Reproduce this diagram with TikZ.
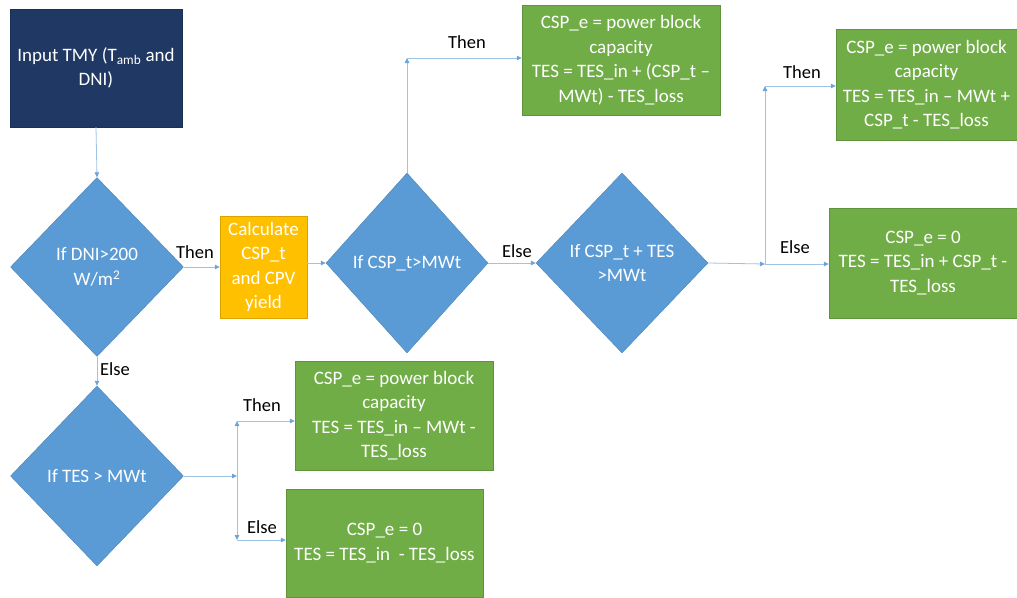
\documentclass[tikz,border=0pt]{standalone}
\usepackage{fontspec}
\setmainfont{Carlito}
\usetikzlibrary{shapes.geometric,arrows.meta}
\definecolor{navy}{HTML}{203864}
\definecolor{dblue}{HTML}{5B9BD5}
\definecolor{orng}{HTML}{FFC000}
\definecolor{grn}{HTML}{70AD47}
\definecolor{lnblue}{HTML}{9DC3E6}
\definecolor{tipblue}{HTML}{6FA3D8}
\tikzset{
  txt/.style={font=\fontsize{19}{24.5}\selectfont},
  box/.style={rectangle, inner sep=0pt, align=center, text=white, txt, draw=#1!85!black, line width=0.4pt, fill=#1},
  dia/.style={diamond, inner sep=0pt, align=center, text=white, txt, fill=dblue, draw=dblue!85!black, line width=0.4pt},
  arr/.style={draw=lnblue, line width=0.8pt, -{Triangle[length=5pt,width=4.5pt,color=tipblue,fill=tipblue]}},
  lbl/.style={font=\fontsize{18.5}{22}\selectfont, text=black, inner sep=0pt}
}
\begin{document}
\begin{tikzpicture}[x=1pt,y=-1pt]
\useasboundingbox (0,0) rectangle (1017,597);
% nodes
\node[box=navy, minimum width=172pt, minimum height=118pt] (in) at (96,68) {Input TMY (T\textsubscript{amb} and\\DNI)};
\node[dia, minimum width=173pt, minimum height=179pt] (d1) at (97,267) {If DNI>200\\W/m\textsuperscript{2}};
\node[box=orng, minimum width=87pt, minimum height=102pt] (calc) at (263.5,267) {Calculate\\CSP\_t\\and CPV\\yield};
\node[dia, minimum width=162pt, minimum height=180pt] (d2) at (407,263) {If CSP\_t>MWt};
\node[box=grn, minimum width=198pt, minimum height=110pt] (top) at (621,60) {CSP\_e = power block\\capacity\\TES = TES\_in + (CSP\_t –\\MWt) - TES\_loss};
\node[dia, minimum width=172pt, minimum height=180pt] (d3) at (622,263) {If CSP\_t + TES\\>MWt};
\node[box=grn, minimum width=181pt, minimum height=111pt] (tr) at (926.5,84.5) {CSP\_e = power block\\capacity\\TES = TES\_in – MWt +\\CSP\_t - TES\_loss};
\node[box=grn, minimum width=188pt, minimum height=110pt] (br) at (923,263) {CSP\_e = 0\\TES = TES\_in + CSP\_t -\\TES\_loss};
\node[dia, minimum width=173pt, minimum height=180pt] (d4) at (97,476) {If TES > MWt};
\node[box=grn, minimum width=198pt, minimum height=109pt] (mid) at (394,415.5) {CSP\_e = power block\\capacity\\TES = TES\_in – MWt -\\TES\_loss};
\node[box=grn, minimum width=197pt, minimum height=108pt] (bot) at (384.5,543) {CSP\_e = 0\\TES = TES\_in \ - TES\_loss};
% coordinates
\coordinate (c1) at (407,58);
\coordinate (c2) at (765,264);
\coordinate (c2u) at (765,86);
\coordinate (c3) at (237,476);
\coordinate (c3u) at (237,421);
\coordinate (c3d) at (237,540);
% connectors
\draw[arr] (in.south) -- (d1.north);
\draw[arr] (d1.east) -- (calc.west |- d1.east);
\draw[arr] (calc.east |- d2.west) -- (d2.west);
\draw[arr] (d2.north) -- (c1);
\draw[arr] (c1) -- (top.west |- c1);
\draw[arr] (d2.east) -- (d3.west);
\draw[arr] (d3.east) -- (c2);
\draw[arr] (c2) -- (c2u);
\draw[arr] (c2u) -- (tr.west |- c2u);
\draw[arr] (c2) -- (br.west |- c2);
\draw[arr] (d1.south) -- (d4.north);
\draw[arr] (d4.east) -- (c3);
\draw[arr] (c3) -- (c3u);
\draw[arr] (c3u) -- (mid.west |- c3u);
\draw[arr] (c3) -- (c3d);
\draw[arr] (c3d) -- (bot.west |- c3d);
% labels
\node[lbl] (l1) at (195,252) {Then};
\node[lbl] (l2) at (467,42) {Then};
\node[lbl] (l3) at (517,251) {Else};
\node[lbl] (l4) at (802,72) {Then};
\node[lbl] (l5) at (795,247) {Else};
\node[lbl] (l6) at (115,369) {Else};
\node[lbl] (l7) at (262,405) {Then};
\node[lbl] (l8) at (262,527) {Else};
\end{tikzpicture}
\end{document}
